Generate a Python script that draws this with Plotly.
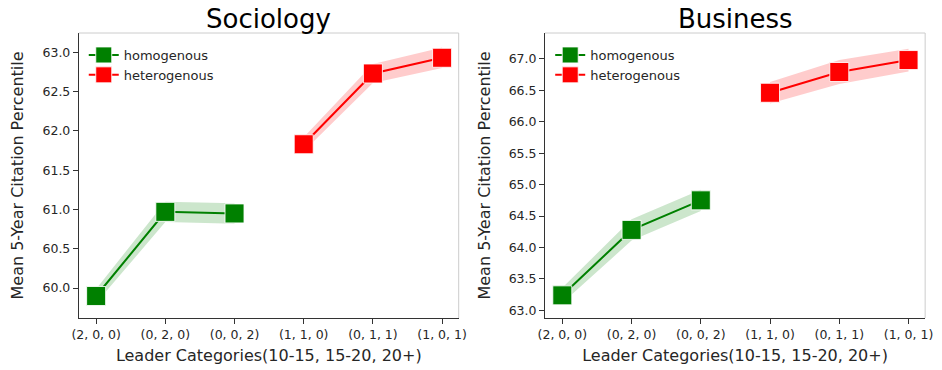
import plotly.graph_objects as go

categories = ["(2, 0, 0)", "(0, 2, 0)", "(0, 0, 2)", "(1, 1, 0)", "(0, 1, 1)", "(1, 0, 1)"]
homo_cats = categories[:3]
hetero_cats = categories[3:]

# Sociology
soc_homo = [59.90, 60.97, 60.95]
soc_homo_ci = [0.09, 0.13, 0.13]
soc_hetero = [61.83, 62.73, 62.93]
soc_hetero_ci = [0.09, 0.12, 0.13]

# Business
bus_homo = [63.24, 64.28, 64.75]
bus_homo_ci = [0.12, 0.17, 0.17]
bus_hetero = [66.46, 66.79, 66.98]
bus_hetero_ci = [0.17, 0.19, 0.18]

titles = ["Sociology", "Business"]
y_title = "Mean 5-Year Citation Percentile"
x_title = "Leader Categories(10-15, 15-20, 20+)"

GREEN = "#008000"
RED = "#ff0000"
GREEN_BAND = "rgba(0,128,0,0.2)"
RED_BAND = "rgba(255,0,0,0.2)"
FONT = "DejaVu Sans"

fig = go.Figure()

def add_series(xa, ya, cats, vals, ci, color, band, name, legend):
    upper = [v + c for v, c in zip(vals, ci)]
    lower = [v - c for v, c in zip(vals, ci)]
    fig.add_trace(go.Scatter(x=cats, y=upper, mode="lines", line=dict(width=0, color=band),
                             xaxis=xa, yaxis=ya, showlegend=False, hoverinfo="skip", legend=legend))
    fig.add_trace(go.Scatter(x=cats, y=lower, mode="lines", line=dict(width=0, color=band),
                             fill="tonexty", fillcolor=band, legend=legend,
                             xaxis=xa, yaxis=ya, showlegend=False, hoverinfo="skip"))
    fig.add_trace(go.Scatter(x=cats, y=vals, mode="lines+markers", name=name,
                             line=dict(color=color, width=2),
                             marker=dict(symbol="square", size=19, color=color,
                                         line=dict(color="rgba(255,255,255,0.85)", width=1)),
                             xaxis=xa, yaxis=ya, legend=legend, showlegend=True))

add_series("x", "y", homo_cats, soc_homo, soc_homo_ci, GREEN, GREEN_BAND, "homogenous", "legend")
add_series("x", "y", hetero_cats, soc_hetero, soc_hetero_ci, RED, RED_BAND, "heterogenous", "legend")
add_series("x2", "y2", homo_cats, bus_homo, bus_homo_ci, GREEN, GREEN_BAND, "homogenous", "legend2")
add_series("x2", "y2", hetero_cats, bus_hetero, bus_hetero_ci, RED, RED_BAND, "heterogenous", "legend2")

W, H = 942, 370
dom_y = [(H - 318) / H, (H - 33) / H]
dom_x1 = [73 / W, 459 / W]
dom_x2 = [546.7 / W, 933 / W]

TXT = "#262626"
axis_common = dict(showgrid=False, zeroline=False, showline=True, linecolor="#333333", linewidth=1,
                   ticks="outside", ticklen=5, tickwidth=1, tickcolor="#333333",
                   tickfont=dict(family=FONT, size=12.5, color=TXT))

xcommon = dict(axis_common, type="category", categoryorder="array", categoryarray=categories,
               range=[-0.25, 5.24],
               title=dict(text=x_title, font=dict(family=FONT, size=16, color=TXT), standoff=8))

ytitle = dict(text=y_title, font=dict(family=FONT, size=16, color=TXT), standoff=14)

legend_common = dict(xanchor="left", yanchor="top", bgcolor="rgba(255,255,255,0)",
                     font=dict(family=FONT, size=13, color=TXT), tracegroupgap=0, traceorder="normal")

fig.update_layout(
    width=W, height=H,
    margin=dict(l=0, r=0, t=0, b=0),
    paper_bgcolor="white", plot_bgcolor="white",
    font=dict(family=FONT, color=TXT),
    xaxis=dict(xcommon, domain=dom_x1, anchor="y"),
    xaxis2=dict(xcommon, domain=dom_x2, anchor="y2"),
    yaxis=dict(axis_common, domain=dom_y, anchor="x", range=[59.62, 63.245],
               tickvals=[60.0, 60.5, 61.0, 61.5, 62.0, 62.5, 63.0], tickformat=".1f", title=ytitle),
    yaxis2=dict(axis_common, domain=dom_y, anchor="x2", range=[62.88, 67.41],
                tickvals=[63.0, 63.5, 64.0, 64.5, 65.0, 65.5, 66.0, 66.5, 67.0], tickformat=".1f",
                title=ytitle),
    legend=dict(legend_common, x=78 / W, y=(H - 40) / H),
    legend2=dict(legend_common, x=552 / W, y=(H - 40) / H),
    showlegend=True,
)

# subplot titles
for t, d in zip(titles, [dom_x1, dom_x2]):
    fig.add_annotation(text=t, x=(d[0] + d[1]) / 2, y=(H - 19) / H, xref="paper", yref="paper",
                       xanchor="center", yanchor="middle", showarrow=False,
                       font=dict(family=FONT, size=26, color="#000000"))

# light top/right spines
for d in [dom_x1, dom_x2]:
    fig.add_shape(type="line", xref="paper", yref="paper", x0=d[0], x1=d[1], y0=dom_y[1], y1=dom_y[1],
                  line=dict(color="#cccccc", width=1))
    fig.add_shape(type="line", xref="paper", yref="paper", x0=d[1], x1=d[1], y0=dom_y[0], y1=dom_y[1],
                  line=dict(color="#cccccc", width=1))

fig.write_html("out.html")
